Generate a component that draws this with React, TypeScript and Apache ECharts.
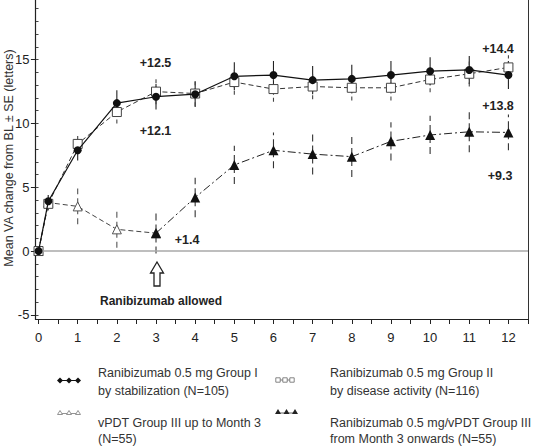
import React, { useEffect, useRef } from "react";
import * as echarts from "echarts";

// ---- data ----
const monthsAll = [0, 0.25, 1, 2, 3, 4, 5, 6, 7, 8, 9, 10, 11, 12];
const groupIMean = [0, 3.9, 7.9, 11.6, 12.1, 12.3, 13.7, 13.8, 13.4, 13.5, 13.8, 14.1, 14.2, 13.8];
const groupISE = [0, 0.5, 0.8, 1.0, 1.0, 1.0, 1.1, 1.1, 1.1, 1.1, 1.1, 1.1, 1.1, 1.1];
const groupIIMean = [0, 3.7, 8.4, 10.9, 12.5, 12.35, 13.25, 12.7, 12.9, 12.8, 12.8, 13.45, 13.9, 14.4];
const groupIISE = [0, 0.5, 0.8, 0.9, 1.0, 1.0, 1.0, 1.0, 1.0, 1.0, 1.0, 1.0, 1.0, 0.95];
const vpdtMonths = [0, 0.25, 1, 2, 3];
const vpdtMean = [0, 3.8, 3.5, 1.7, 1.4];
const vpdtSE = [0, 0.6, 1.4, 1.45, 0];
const ranibMonths = [3, 4, 5, 6, 7, 8, 9, 10, 11, 12];
const ranibMean = [1.4, 4.2, 6.75, 7.9, 7.6, 7.4, 8.6, 9.1, 9.35, 9.3];
const ranibSE = [1.6, 1.55, 1.5, 1.4, 1.6, 1.6, 1.5, 1.5, 1.6, 1.4];
const yMajorTicks = [-5, 0, 5, 10, 15, 20];
const yMinorTicks = [-5, -4, -3, -2, -1, 0, 1, 2, 3, 4, 5, 6, 7, 8, 9, 10, 11, 12, 13, 14, 15, 16, 17, 18, 19, 20];
const xLabels = [0, 1, 2, 3, 4, 5, 6, 7, 8, 9, 10, 11, 12];
const xTicks = [0, 0.5, 1, 1.5, 2, 2.5, 3, 3.5, 4, 4.5, 5, 5.5, 6, 6.5, 7, 7.5, 8, 8.5, 9, 9.5, 10, 10.5, 11, 11.5, 12, 12.5];
const legendNames = [
  ["Ranibizumab 0.5 mg Group I", "by stabilization (N=105)"],
  ["Ranibizumab 0.5 mg Group II", "by disease activity (N=116)"],
  ["vPDT Group III up to Month 3", "(N=55)"],
  ["Ranibizumab 0.5 mg/vPDT Group III", "from Month 3 onwards (N=55)"],
];
const annotations = [
  { text: "+12.5", x: 155.5, y: 63 },
  { text: "+12.1", x: 155.5, y: 131 },
  { text: "+1.4", x: 187, y: 240 },
  { text: "+14.4", x: 498, y: 49 },
  { text: "+13.8", x: 498, y: 106 },
  { text: "+9.3", x: 500, y: 176 },
  { text: "Ranibizumab allowed", x: 161, y: 301 },
];

const FONT = "'Liberation Sans', Arial, Helvetica, sans-serif";

function errData(xs: number[], means: number[], se: number[]) {
  return xs.map((x, i) => [x, means[i] - se[i], means[i] + se[i]]);
}

function errSeries(data: number[][], stroke: string, dash: number[] | null) {
  return {
    type: "custom",
    xAxisIndex: 0,
    yAxisIndex: 0,
    z: 1,
    silent: true,
    data,
    encode: { x: 0, y: [1, 2] },
    renderItem: (params: any, api: any) => {
      const x = api.value(0);
      const lo = api.coord([x, api.value(1)]);
      const hi = api.coord([x, api.value(2)]);
      return {
        type: "line",
        shape: { x1: lo[0], y1: lo[1], x2: hi[0], y2: hi[1] },
        style: { stroke, lineWidth: 1.1, lineDash: dash || undefined },
      };
    },
  };
}

function legendGraphics() {
  const els: any[] = [];
  const textStyle = (t: string, x: number, y: number) => ({
    type: "text",
    x,
    y,
    style: { text: t, fontFamily: FONT, fontSize: 12.5, fill: "#333", textVerticalAlign: "middle" },
  });
  // row 1 left: diamonds solid
  const d1 = [60, 69, 78];
  els.push({ type: "line", shape: { x1: 60, y1: 380.5, x2: 78, y2: 380.5 }, style: { stroke: "#111", lineWidth: 1 } });
  d1.forEach((cx) =>
    els.push({
      type: "polygon",
      shape: { points: [[cx, 377.5], [cx + 3, 380.5], [cx, 383.5], [cx - 3, 380.5]] },
      style: { fill: "#111" },
    })
  );
  els.push(textStyle(legendNames[0][0], 98, 373));
  els.push(textStyle(legendNames[0][1], 98, 390.5));
  // row 1 right: squares
  const d2 = [278, 285, 292];
  els.push({ type: "line", shape: { x1: 278, y1: 380, x2: 292, y2: 380 }, style: { stroke: "#777", lineWidth: 1 } });
  d2.forEach((cx) =>
    els.push({ type: "rect", shape: { x: cx - 2.2, y: 377.8, width: 4.4, height: 4.4 }, style: { fill: "#fff", stroke: "#777", lineWidth: 0.9 } })
  );
  els.push(textStyle(legendNames[1][0], 330, 373));
  els.push(textStyle(legendNames[1][1], 330, 390.5));
  // row 2 left: open triangles
  const d3 = [60, 69, 78];
  els.push({ type: "line", shape: { x1: 60, y1: 413.5, x2: 78, y2: 413.5 }, style: { stroke: "#888", lineWidth: 0.9 } });
  d3.forEach((cx) =>
    els.push({
      type: "polygon",
      shape: { points: [[cx, 410.5], [cx + 2.5, 414.5], [cx - 2.5, 414.5]] },
      style: { fill: "#fff", stroke: "#888", lineWidth: 0.9 },
    })
  );
  els.push(textStyle(legendNames[2][0], 98, 423));
  els.push(textStyle(legendNames[2][1], 98, 439));
  // row 2 right: filled triangles
  const d4 = [278, 286.5, 295];
  els.push({ type: "line", shape: { x1: 278, y1: 413, x2: 295, y2: 413 }, style: { stroke: "#555", lineWidth: 0.9 } });
  d4.forEach((cx) =>
    els.push({
      type: "polygon",
      shape: { points: [[cx, 409], [cx + 3, 414], [cx - 3, 414]] },
      style: { fill: "#222" },
    })
  );
  els.push(textStyle(legendNames[3][0], 330, 423));
  els.push(textStyle(legendNames[3][1], 330, 439));
  return els;
}

export default function App() {
  const ref = useRef<HTMLDivElement>(null);
  useEffect(() => {
    if (!ref.current) return;
    const chart = echarts.init(ref.current, null, { renderer: "svg" });
    const axisLineStyle = { color: "#222", width: 1.2 };
    const option: any = {
      animation: false,
      backgroundColor: "#fff",
      grid: { left: 35.4, right: 5, top: -10.4, bottom: 129, containLabel: false, outerBoundsMode: "none" },
      xAxis: [
        {
          type: "value",
          min: -0.08,
          max: 12.5,
          axisLine: { show: true, onZero: false, lineStyle: axisLineStyle },
          axisTick: { show: true, length: 5, customValues: xTicks, lineStyle: { color: "#222", width: 1 } },
          axisLabel: { customValues: xLabels, margin: 12, fontSize: 13, fontFamily: FONT, color: "#222" },
          splitLine: { show: false },
        },
      ],
      yAxis: [
        {
          type: "value",
          min: -5.33,
          max: 20.5,
          axisLine: { show: true, onZero: false, lineStyle: axisLineStyle },
          axisTick: { show: true, length: 4.5, customValues: yMajorTicks, lineStyle: { color: "#222", width: 1 } },
          axisLabel: { customValues: yMajorTicks, margin: 6, fontSize: 13, fontFamily: FONT, color: "#222" },
          splitLine: { show: false },
        },
        {
          type: "value",
          position: "left",
          min: -5.33,
          max: 20.5,
          axisLine: { show: false },
          axisTick: { show: true, length: 2.5, customValues: yMinorTicks, lineStyle: { color: "#444", width: 1 } },
          axisLabel: { show: false },
          splitLine: { show: false },
        },
        {
          type: "value",
          position: "right",
          min: -5.33,
          max: 20.5,
          axisLine: { show: true, onZero: false, lineStyle: { color: "#333", width: 1 } },
          axisTick: { show: false },
          axisLabel: { show: false },
          splitLine: { show: false },
        },
      ],
      series: [
        errSeries(errData(monthsAll, groupIMean, groupISE), "#222", null),
        errSeries(errData(monthsAll, groupIIMean, groupIISE), "#444", [4, 3]),
        errSeries(errData(vpdtMonths.slice(0, 4), vpdtMean.slice(0, 4), vpdtSE.slice(0, 4)), "#555", [6, 4]),
        errSeries(errData(ranibMonths, ranibMean, ranibSE), "#333", [7, 4]),
        {
          name: "Ranibizumab 0.5 mg Group I",
          type: "line",
          z: 5,
          data: monthsAll.map((m, i) => [m, groupIMean[i]]),
          symbol: "circle",
          symbolSize: 8,
          itemStyle: { color: "#111" },
          lineStyle: { color: "#111", width: 1.2 },
          markLine: {
            silent: true,
            symbol: ["none", "none"],
            label: { show: false },
            lineStyle: { color: "#a8a8a8", width: 1.6, type: "solid" },
            data: [{ yAxis: 0 }],
          },
        },
        {
          name: "Ranibizumab 0.5 mg Group II",
          type: "line",
          z: 4,
          data: monthsAll.map((m, i) => [m, groupIIMean[i]]),
          symbol: "rect",
          symbolSize: 9,
          itemStyle: { color: "#fff", borderColor: "#444", borderWidth: 1 },
          lineStyle: { color: "#333", width: 1, type: [5, 3] },
        },
        {
          name: "vPDT Group III up to Month 3",
          type: "line",
          z: 3,
          data: vpdtMonths.map((m, i) => [m, vpdtMean[i]]),
          symbol: "triangle",
          symbolSize: 9,
          itemStyle: { color: "#fff", borderColor: "#555", borderWidth: 1 },
          lineStyle: { color: "#444", width: 1, type: [5, 3] },
        },
        {
          name: "Ranibizumab 0.5 mg/vPDT Group III",
          type: "line",
          z: 4,
          data: ranibMonths.map((m, i) => [m, ranibMean[i]]),
          symbol: "triangle",
          symbolSize: 10,
          itemStyle: { color: "#111" },
          lineStyle: { color: "#222", width: 1, type: [8, 3, 2, 3] },
        },
      ],
      graphic: [
        {
          type: "text",
          x: 9,
          y: 158,
          rotation: Math.PI / 2,
          style: {
            text: "Mean VA change from BL ± SE (letters)",
            fontFamily: FONT,
            fontSize: 12.5,
            fill: "#333",
            textAlign: "center",
            textVerticalAlign: "middle",
          },
        },
        ...annotations.map((a) => ({
          type: "text",
          x: a.x,
          y: a.y,
          style: {
            text: a.text,
            fontFamily: FONT,
            fontSize: a.text.length > 6 ? 12 : 12.5,
            fontWeight: "bold",
            fill: "#222",
            textAlign: "center",
            textVerticalAlign: "middle",
          },
        })),
        {
          type: "polygon",
          shape: {
            points: [
              [157, 262],
              [163.5, 273],
              [160, 273],
              [160, 286],
              [154, 286],
              [154, 273],
              [150.5, 273],
            ],
          },
          style: { fill: "#fff", stroke: "#222", lineWidth: 1.3 },
        },
        ...legendGraphics(),
      ],
    };
    chart.setOption(option);
    return () => chart.dispose();
  }, []);
  return (
    <div
      ref={ref}
      style={{ position: "fixed", left: 0, top: 0, width: 533, height: 448, background: "#fff" }}
    />
  );
}
